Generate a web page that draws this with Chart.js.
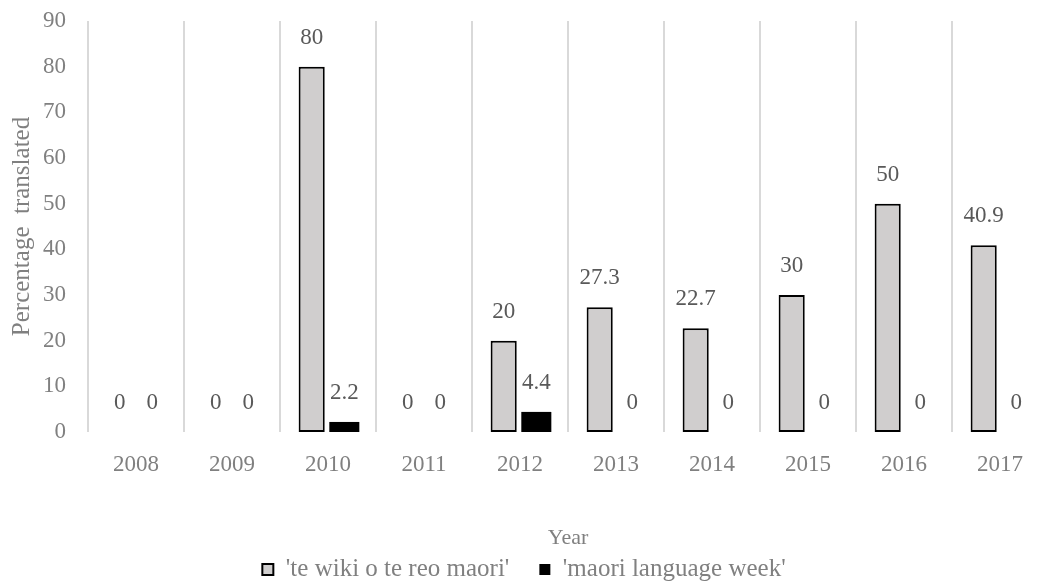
<!DOCTYPE html>
<html lang="en">
<head>
  <meta charset="UTF-8" />
  <title>Percentage translated by year</title>
  <script src="https://cdn.jsdelivr.net/npm/chart.js@4.4.0/dist/chart.umd.min.js"></script>
  <style>
    html, body   { margin:0; padding:0; background:#fff; overflow:hidden; }
    .chart-box   { position:relative; width:1050px; height:585px; }
  </style>
</head>
<body>
  <div class="chart-box"><canvas id="chart"></canvas></div>

  <script>
    /* data */
    const years      = ['2008','2009','2010','2011','2012','2013','2014','2015','2016','2017'];
    const teWiki     = [0, 0, 80, 0, 20, 27.3, 22.7, 30, 50, 40.9];
    const languageWk = [0, 0, 2.2, 0, 4.4, 0, 0, 0, 0, 0];
    const seriesNames = ["'te wiki o te reo maori'", "'maori language week'"];

    const FONT  = "'Liberation Serif', 'Times New Roman', serif";
    const GREY  = '#808080';
    const LEGEND_PAD = 30;   // horizontal gap between legend items

    /* value labels above each bar */
    const barLabels = {
      id:'barLabels',
      afterDatasetsDraw(chart){
        const ctx = chart.ctx;
        ctx.save();
        ctx.font = '23px ' + FONT;
        ctx.fillStyle = '#595959';
        ctx.textAlign = 'center';
        ctx.textBaseline = 'middle';
        chart.data.datasets.forEach((ds, i)=>{
          chart.getDatasetMeta(i).data.forEach((bar, j)=>{
            ctx.fillText(String(ds.data[j]), bar.x, bar.y - 29);
          });
        });
        ctx.restore();
      }
    };

    /* legend padding is used both ways in Chart.js; pull the row back up
       (only the top moves, so the box still holds the text) */
    const legendNudge = {
      id:'legendNudge',
      afterLayout(chart){
        const l = chart.legend;
        if(!l) return;
        const shift = LEGEND_PAD - 9;
        l.top -= shift;
        l.height += shift;
      }
    };

    new Chart(document.getElementById('chart'), {
      type:'bar',
      data:{
        labels: years,
        datasets:[
          { label:seriesNames[0], data:teWiki, backgroundColor:'#d0cece',
            borderColor:'#000', borderWidth:2, borderSkipped:false,
            categoryPercentage:0.68, barPercentage:0.8, inflateAmount:0 },
          { label:seriesNames[1], data:languageWk, backgroundColor:'#000',
            borderColor:'#000', borderWidth:0,
            categoryPercentage:0.68, barPercentage:0.92, inflateAmount:0 }
        ]
      },
      options:{
        responsive:true,
        maintainAspectRatio:false,
        animation:false,
        layout:{ autoPadding:false, padding:{ top:21, right:2, left:0, bottom:0 } },
        plugins:{
          legend:{
            position:'bottom',
            maxHeight:37,
            labels:{ boxWidth:11, boxHeight:11, padding:LEGEND_PAD, color:GREY,
                     font:{ family:FONT, size:25 } }
          },
          tooltip:{ enabled:false }
        },
        scales:{
          x:{
            grid:{ offset:true, color:'#d9d9d9', lineWidth:2, drawTicks:false },
            border:{ display:false },
            ticks:{ color:GREY, padding:19, font:{ family:FONT, size:23 } },
            title:{ display:true, text:'Year', color:GREY, padding:{ top:0, bottom:-3 },
                    font:{ family:FONT, size:22 } },
            afterFit(s){ s.height = 116; }
          },
          y:{
            min:0, max:90,
            grid:{ display:false },
            border:{ display:false },
            ticks:{ stepSize:10, color:GREY, padding:14,
                    font:{ family:FONT, size:23, lineHeight:0.6 } },
            title:{ display:true, text:'Percentage  translated', color:GREY,
                    padding:{ top:7, bottom:0 }, font:{ family:FONT, size:25 } },
            afterFit(s){ s.width = 88; }
          }
        }
      },
      plugins:[barLabels, legendNudge]
    });
  </script>
</body>
</html>
